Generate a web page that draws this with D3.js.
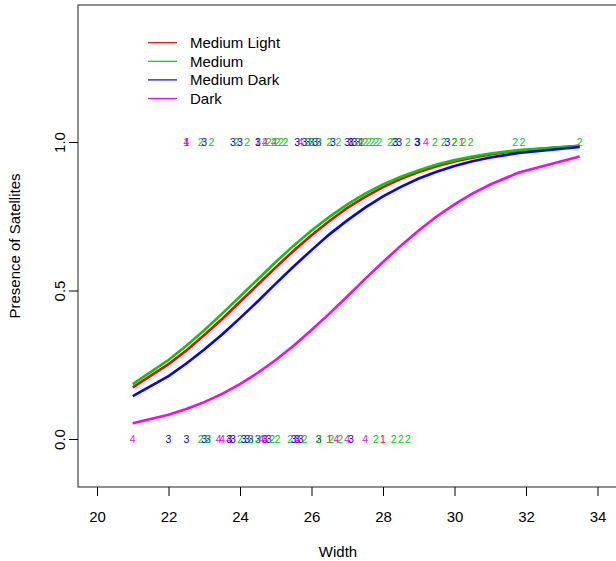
<!DOCTYPE html>
<html><head><meta charset="utf-8">
<script src="https://cdn.jsdelivr.net/npm/d3@7"></script>
<style>body{margin:0;background:#fff}svg{display:block;font-family:"Liberation Sans",Arial,sans-serif}</style>
</head><body><svg id="c" width="616" height="561"></svg>
<script>
// Legend / series
const seriesNames = ["Medium Light","Medium","Medium Dark","Dark"];
const seriesColors = ["#FF0000","#00CD00","#0000FF","#FF00FF"];
// Fitted curves (width grid and fitted probabilities per color)
const curveWidth = [21,22,22.5,23,23.5,24,24.5,25,25.5,26,26.5,27,27.5,28,28.5,29,29.5,30,30.5,31,31.8,33.5];
const fitMediumLight = [0.174,0.252,0.298,0.350,0.404,0.462,0.520,0.578,0.634,0.686,0.734,0.778,0.815,0.848,0.876,0.899,0.918,0.934,0.947,0.958,0.971,0.987];
const fitMedium      = [0.185,0.266,0.314,0.366,0.422,0.480,0.538,0.596,0.651,0.702,0.748,0.790,0.826,0.857,0.883,0.905,0.924,0.939,0.951,0.961,0.973,0.987];
const fitMediumDark  = [0.144,0.212,0.254,0.301,0.352,0.407,0.464,0.523,0.581,0.636,0.689,0.736,0.779,0.817,0.849,0.877,0.900,0.919,0.935,0.948,0.963,0.983];
const fitDark        = [0.053,0.082,0.101,0.124,0.152,0.185,0.223,0.266,0.314,0.367,0.422,0.480,0.539,0.596,0.651,0.702,0.749,0.790,0.826,0.857,0.897,0.951];
// Observed crabs with satellites (y = 1): width and color code
const satWidth = [22.5,22.5,22.9,23.0,23.2,23.8,23.9,24.0,24.2,24.5,24.5,24.7,24.7,24.8,24.95,24.95,25.05,25.15,25.27,25.6,25.7,25.8,25.9,25.9,26.0,26.0,26.1,26.2,26.2,26.5,26.6,26.75,27.0,27.1,27.1,27.2,27.3,27.3,27.4,27.4,27.5,27.6,27.7,27.8,27.9,28.2,28.3,28.35,28.45,28.7,28.95,28.97,29.2,29.45,29.7,29.8,30.0,30.0,30.2,30.25,30.45,31.7,31.9,33.5];
const satColor = [4,1,2,3,2,3,2,3,2,1,3,2,4,2,4,2,2,2,2,3,4,3,3,2,3,2,3,3,2,2,3,2,3,1,3,3,3,2,2,1,2,2,2,2,2,2,2,3,3,2,3,3,4,2,2,3,2,2,1,2,2,2,2,2];
// Observed crabs without satellites (y = 0)
const noSatWidth = [21.0,22.0,22.5,22.9,23.0,23.1,23.1,23.4,23.5,23.7,23.7,23.8,24.0,24.1,24.2,24.3,24.3,24.5,24.5,24.6,24.7,24.7,24.8,24.9,25.05,25.4,25.5,25.6,25.6,25.7,25.8,26.2,26.2,26.5,26.55,26.7,26.8,27.0,27.1,27.5,27.8,28.0,28.3,28.5,28.7];
const noSatColor = [4,3,3,2,3,3,2,4,4,4,3,3,2,3,3,3,2,3,2,4,3,4,3,2,2,2,3,3,4,3,2,3,2,1,2,4,2,4,3,4,2,1,2,2,2];
const xTicks = [20,22,24,26,28,30,32,34];
const yTicks = [0,0.5,1];
const yTickLabels = ["0.0","0.5","1.0"];

const svg = d3.select("#c");
const x = d3.scaleLinear().domain([20,34]).range([97,597.5]);
const y = d3.scaleLinear().domain([0,1]).range([439,142]);
const L = 78, T = 5, B = 487, R = 640;

// points as text labels
const g = svg.append("g").attr("font-size",10.5).attr("text-anchor","middle");
function drawPts(ws, cs, yv){
  g.selectAll(null).data(ws.map((w,i)=>({w,c:cs[i]}))).join("text")
    .attr("x",d=>x(d.w)).attr("y",y(yv)).attr("dy","0.36em")
    .attr("fill",d=>seriesColors[d.c-1]).text(d=>d.c);
}
drawPts(satWidth, satColor, 1);
drawPts(noSatWidth, noSatColor, 0);

// curves
const fits = [fitMediumLight, fitMedium, fitMediumDark, fitDark];
const line = d3.line().x(d=>x(d[0])).y(d=>y(d[1]));
fits.forEach((f,i)=>{
  svg.append("path").attr("d", line(curveWidth.map((w,j)=>[w,f[j]])))
    .attr("fill","none").attr("stroke",seriesColors[i]).attr("stroke-width",2.6);
});

// box
svg.append("rect").attr("x",L).attr("y",T).attr("width",R-L).attr("height",B-T)
  .attr("fill","none").attr("stroke","#222").attr("stroke-width",1);

// x axis
const xa = svg.append("g").attr("transform",`translate(0,${B})`)
  .call(d3.axisBottom(x).tickValues(xTicks).tickSize(9).tickPadding(15).tickFormat(d3.format("d")));
xa.select(".domain").remove();
xa.selectAll("line").attr("stroke","#000");
xa.selectAll("text").attr("font-size",15).attr("fill","#000").attr("font-family","Liberation Sans, Arial, sans-serif");

// y axis
const ya = svg.append("g").attr("transform",`translate(${L},0)`)
  .call(d3.axisLeft(y).tickValues(yTicks).tickSize(9).tickFormat((d,i)=>yTickLabels[i]));
ya.select(".domain").remove();
ya.selectAll("line").attr("stroke","#000");
ya.selectAll("text").attr("font-size",15).attr("fill","#000").attr("font-family","Liberation Sans, Arial, sans-serif")
  .attr("transform","rotate(-90)").attr("x",0).attr("y",-13).attr("dy",null).attr("text-anchor","middle");

// axis titles
svg.append("text").attr("x",338).attr("y",557).attr("text-anchor","middle").attr("font-size",15).text("Width");
svg.append("text").attr("transform","translate(20,246) rotate(-90)").attr("text-anchor","middle").attr("font-size",15).text("Presence of Satellites");

// legend
const lg = svg.append("g");
seriesNames.forEach((n,i)=>{
  const yy = 42.7 + i*18.6;
  lg.append("line").attr("x1",148).attr("x2",177).attr("y1",yy).attr("y2",yy).attr("stroke",seriesColors[i]).attr("stroke-width",1.2);
  lg.append("text").attr("x",190).attr("y",yy).attr("dy","0.36em").attr("font-size",15).text(n);
});
</script></body></html>
